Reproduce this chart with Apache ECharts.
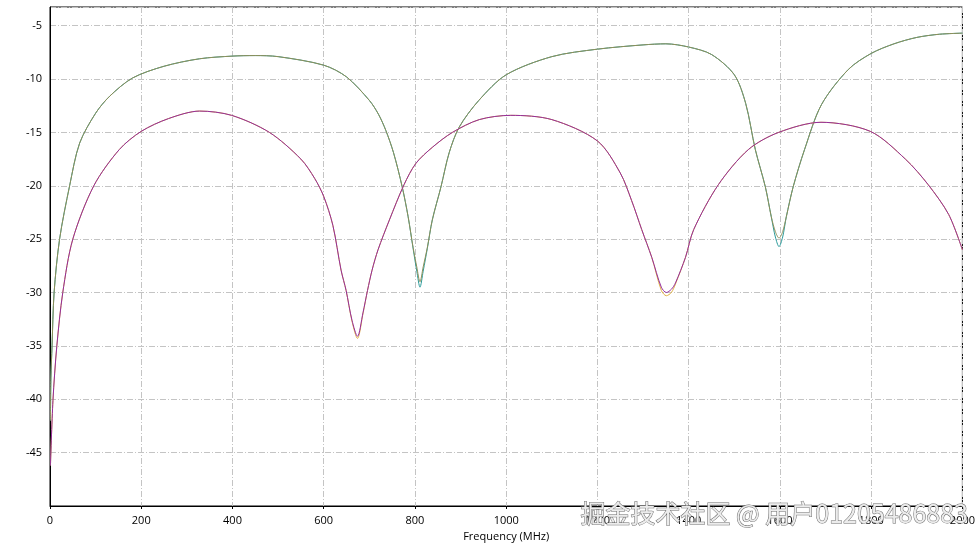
<!DOCTYPE html>
<html><head><meta charset="utf-8">
<script src="https://cdn.jsdelivr.net/npm/echarts@6/dist/echarts.min.js"></script>
<style>html,body{margin:0;padding:0;background:#fff}#c{width:978px;height:547px}</style>
</head><body><div id="c"></div>
<script>
// Upper pair (olive / teal)
const upperFreq = [1, 2, 4.5, 9, 21, 43, 65, 100, 131, 181, 250, 328, 400, 450, 500, 600, 650, 700, 720, 736, 753, 772, 785, 796, 804, 811, 818, 827, 838, 857, 875, 897, 940, 1000, 1100, 1200, 1300, 1350, 1400, 1450, 1500, 1525, 1546, 1568, 1581, 1590, 1598, 1606, 1614, 1629, 1654, 1691, 1750, 1800, 1850, 1900, 1950, 2000];
const oliveVals = [-42, -38, -35, -30, -25, -20, -16, -13.2, -11.6, -9.9, -8.8, -8.1, -7.85, -7.8, -7.9, -8.7, -9.8, -12.0, -13.3, -14.8, -16.9, -20.1, -22.9, -25.8, -27.6, -29.0, -27.6, -25.8, -23.2, -20.1, -16.9, -14.5, -12.0, -9.6, -7.9, -7.2, -6.8, -6.7, -7.0, -7.7, -9.6, -12.3, -16.6, -20.1, -22.9, -24.3, -24.9, -24.3, -22.9, -20.1, -16.6, -12.4, -9.1, -7.6, -6.7, -6.1, -5.8, -5.7];
const tealVals = [-42, -38, -35, -30, -25, -20, -16, -13.2, -11.6, -9.9, -8.8, -8.1, -7.85, -7.8, -7.9, -8.7, -9.8, -12.0, -13.3, -14.8, -16.9, -20.1, -22.9, -25.9, -28.0, -29.5, -28.0, -25.9, -23.2, -20.1, -16.9, -14.5, -12.0, -9.6, -7.9, -7.2, -6.8, -6.7, -7.0, -7.7, -9.6, -12.3, -16.6, -20.1, -22.9, -24.8, -25.7, -24.8, -22.9, -20.1, -16.6, -12.4, -9.1, -7.6, -6.7, -6.1, -5.8, -5.7];
// Lower pair (purple / orange)
const lowerFreq = [1, 6.5, 15, 28, 50, 96, 152, 200, 260, 328, 398, 481, 550, 580, 600, 620, 638, 649, 662, 674, 686, 696, 706, 719, 744, 776, 802, 838, 882, 941, 1010, 1100, 1200, 1250, 1275, 1297, 1319, 1340, 1351, 1362, 1371, 1393, 1411, 1465, 1531, 1597, 1690, 1798, 1875, 1925, 1970, 2000];
const purpleVals = [-46.2, -40.1, -35, -30, -25, -20, -16.6, -14.9, -13.7, -13.0, -13.4, -15.0, -17.5, -19.3, -21.0, -23.7, -27.9, -29.8, -32.6, -34.1, -31.9, -29.8, -27.9, -26.0, -23.2, -19.9, -17.9, -16.4, -15.0, -13.8, -13.4, -13.8, -15.8, -18.8, -21.4, -24.1, -26.7, -29.5, -30.0, -29.7, -29.1, -26.7, -24.1, -19.9, -16.6, -15.0, -14.05, -14.9, -17.5, -19.9, -22.7, -26.0];
const orangeVals = [-46.2, -40.1, -35, -30, -25, -20, -16.6, -14.9, -13.7, -13.0, -13.4, -15.0, -17.5, -19.3, -21.0, -23.7, -27.9, -29.8, -32.7, -34.3, -32.0, -29.8, -27.9, -26.0, -23.2, -19.9, -17.9, -16.4, -15.0, -13.8, -13.4, -13.8, -15.8, -18.8, -21.4, -24.1, -26.7, -29.8, -30.3, -30.0, -29.2, -26.7, -24.1, -19.9, -16.6, -15.0, -14.05, -14.9, -17.5, -19.9, -22.7, -26.0];
const xTicks = [0, 200, 400, 600, 800, 1000, 1200, 1400, 1600, 1800, 2000];
const yTicks = [-45, -40, -35, -30, -25, -20, -15, -10, -5];

const zip = (xs, ys) => xs.map((x, i) => [x, ys[i]]);
const font = 'Open Sans, DejaVu Sans, sans-serif';
const mk = (name, xs, ys, color) => ({
  name, type: 'line', data: zip(xs, ys), showSymbol: false, smooth: 0.3,
  lineStyle: { width: 1, color }, itemStyle: { color }, animation: false
});
const chart = echarts.init(document.getElementById('c'));
chart.setOption({
  animation: false,
  grid: { left: 50, right: 14, top: 7, bottom: 41, show: true, borderColor: '#000', borderWidth: 1 },
  xAxis: {
    type: 'value', min: 0, max: 2000, interval: 200,
    name: 'Frequency (MHz)', nameLocation: 'middle', nameGap: 25,
    nameTextStyle: { fontFamily: font, fontSize: 11, color: '#000' },
    axisLine: { lineStyle: { color: '#000', width: 1 } },
    axisTick: { show: true, length: 3, lineStyle: { color: '#000' } },
    axisLabel: { fontFamily: font, fontSize: 11, color: '#000', margin: 9,
      formatter: v => xTicks.includes(v) ? String(v) : '' },
    splitLine: { show: true, lineStyle: { color: '#c4c4c4', type: [6, 2, 1, 2], width: 1 } }
  },
  yAxis: {
    type: 'value', min: -50, max: -3.25, interval: 5,
    axisLine: { show: true, lineStyle: { color: '#000', width: 1 } },
    axisTick: { show: false },
    axisLabel: { fontFamily: font, fontSize: 11, color: '#000', margin: 8, showMinLabel: false, showMaxLabel: false,
      formatter: v => yTicks.includes(v) ? String(v) : '' },
    splitLine: { show: true, lineStyle: { color: '#c4c4c4', type: [6, 2, 1, 2], width: 1 } }
  },
  series: [
    mk('S21 teal', upperFreq, tealVals, '#2a9a9a'),
    mk('S21 olive', upperFreq, oliveVals, '#8e8e58'),
    mk('S11 orange', lowerFreq, orangeVals, '#e0b040'),
    mk('S11 purple', lowerFreq, purpleVals, '#932c9e')
  ],
  graphic: [{
    type: 'text', left: 580, top: 500, z: 100,
    style: { text: '掘金技术社区 @ 用户01205486883', font: '25px "Noto Sans CJK SC"', fill: '#ececec', stroke: '#6a6a6a', lineWidth: 1 }
  }]
});
</script></body></html>
